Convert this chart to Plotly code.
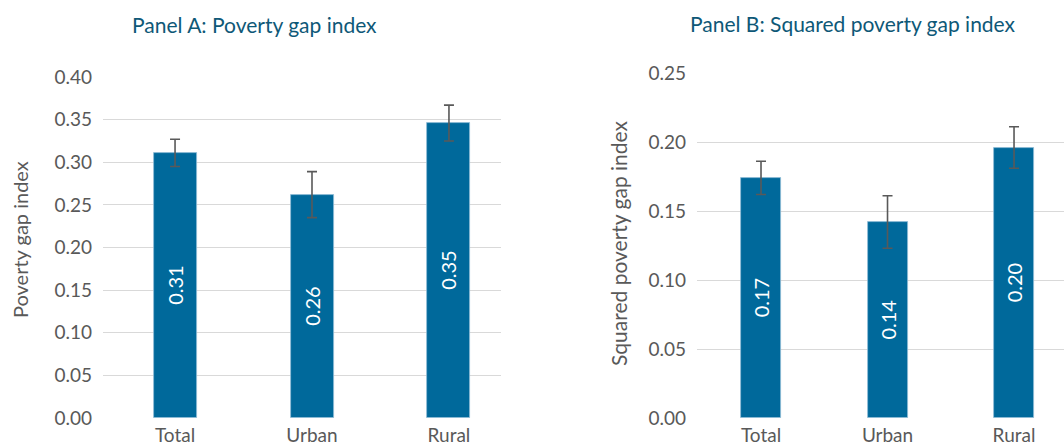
import plotly.graph_objects as go

categories = ["Total", "Urban", "Rural"]
pg_values = [0.311, 0.262, 0.346]
pg_errors = [0.016, 0.027, 0.021]
spg_values = [0.174, 0.142, 0.196]
spg_errors = [0.012, 0.019, 0.015]
pg_ticks = [0.00, 0.05, 0.10, 0.15, 0.20, 0.25, 0.30, 0.35, 0.40]
spg_ticks = [0.00, 0.05, 0.10, 0.15, 0.20, 0.25]

W, H = 1064, 447
BAR = "#00699B"
GREY = "#595959"
TITLE = "#0E5877"
FONT = "Lato, 'Open Sans', sans-serif"

def px(x):
    return x / W

def py(y):
    return (H - y) / H

fig = go.Figure()
err_style = dict(type="data", visible=True, color=GREY, thickness=1.6, width=5)
fig.add_trace(go.Bar(
    x=categories, y=pg_values, xaxis="x", yaxis="y",
    error_y=dict(array=pg_errors, **err_style),
    marker=dict(color=BAR, line=dict(color="#8FBBD6", width=0.8)),
    width=0.314, texttemplate="%{y:.2f}", textposition="inside",
    insidetextanchor="middle", textangle=-90,
    textfont=dict(color="white", size=20, family=FONT),
    hoverinfo="skip", showlegend=False,
))
fig.add_trace(go.Bar(
    x=categories, y=spg_values, xaxis="x2", yaxis="y2",
    error_y=dict(array=spg_errors, **err_style),
    marker=dict(color=BAR, line=dict(color="#8FBBD6", width=0.8)),
    width=0.316, texttemplate="%{y:.2f}", textposition="inside",
    insidetextanchor="middle", textangle=-90,
    textfont=dict(color="white", size=20, family=FONT),
    hoverinfo="skip", showlegend=False,
))

tickfont = dict(color=GREY, size=19, family=FONT)
common_y = dict(showgrid=True, gridcolor="#D9D9D9", gridwidth=1, zeroline=False,
                showline=False, ticks="", tickfont=tickfont, tickformat=".2f",
                ticklabelstandoff=10, automargin=False)
common_x = dict(showgrid=False, zeroline=False, showline=False, ticks="",
                tickfont=tickfont, ticklabelstandoff=4, type="category",
                automargin=False)

fig.update_layout(
    width=W, height=H,
    margin=dict(l=0, r=0, t=0, b=0, autoexpand=False),
    paper_bgcolor="white", plot_bgcolor="white",
    font=dict(family=FONT, color=GREY),
    xaxis=dict(domain=[px(103), px(501)], range=[-0.526, 2.38], anchor="y", **common_x),
    yaxis=dict(domain=[py(418), py(77)], range=[0, 0.40], tickvals=pg_ticks,
               anchor="x", **common_y),
    xaxis2=dict(domain=[px(697), 1.0], range=[-0.506, 2.395], anchor="y2", **common_x),
    yaxis2=dict(domain=[py(418), py(73)], range=[0, 0.25], tickvals=spg_ticks,
                anchor="x2", **common_y),
    bargap=0,
    annotations=[
        dict(text="Panel A: Poverty gap index", x=px(254), y=py(25), xref="paper", yref="paper",
             showarrow=False, xanchor="center", yanchor="middle",
             font=dict(size=21, color=TITLE, family=FONT)),
        dict(text="Panel B: Squared poverty gap index", x=px(853), y=py(23), xref="paper", yref="paper",
             showarrow=False, xanchor="center", yanchor="middle",
             font=dict(size=21, color=TITLE, family=FONT)),
        dict(text="Poverty gap index", x=px(20), y=py(240), xref="paper", yref="paper",
             showarrow=False, xanchor="center", yanchor="middle", textangle=-90,
             font=dict(size=20, color=GREY, family=FONT)),
        dict(text="Squared poverty gap index", x=px(618), y=py(243), xref="paper", yref="paper",
             showarrow=False, xanchor="center", yanchor="middle", textangle=-90,
             font=dict(size=21, color=GREY, family=FONT)),
    ],
)

fig.write_html("out.html")
